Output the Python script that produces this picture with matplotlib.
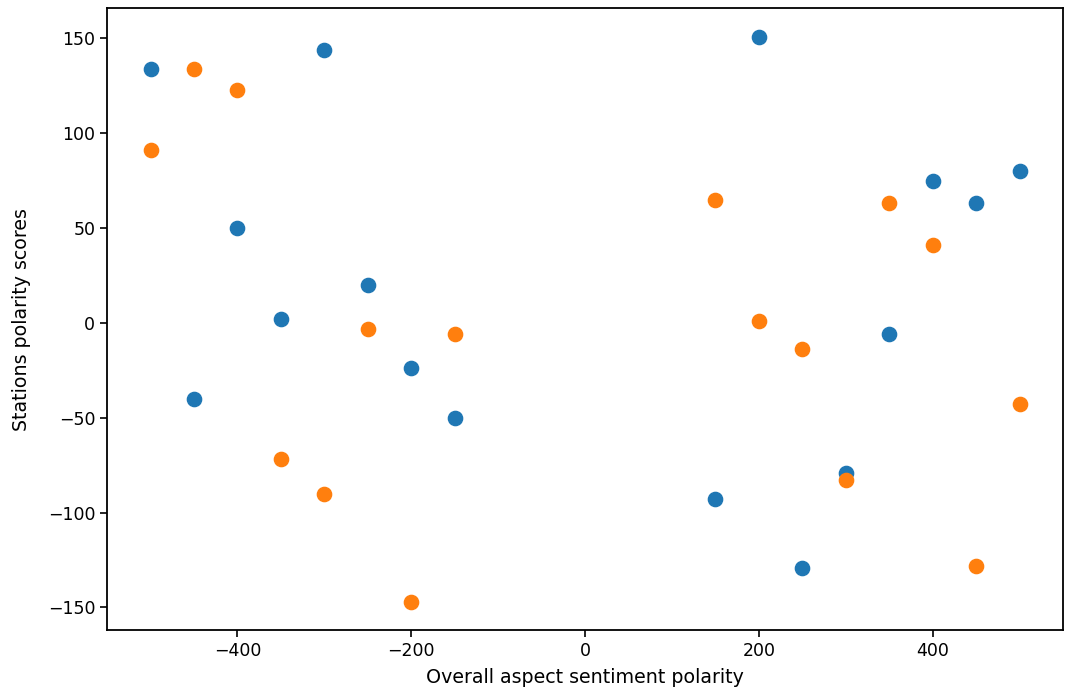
import matplotlib
matplotlib.use("Agg")
import matplotlib.pyplot as plt

x_values = [-500, -450, -400, -350, -300, -250, -200, -150,
            150, 200, 250, 300, 350, 400, 450, 500]
blue_scores = [134, -40, 50, 2, 144, 20, -24, -50,
               -93, 151, -129, -79, -6, 75, 63, 80]
orange_scores = [91, 134, 123, -72, -90, -3, -147, -6,
                 65, 1, -14, -83, 63, 41, -128, -43]
x_label = "Overall aspect sentiment polarity"
y_label = "Stations polarity scores"

plt.rcParams['font.family'] = ['DejaVu Sans']
plt.rcParams['font.size'] = 12.5

fig = plt.figure(figsize=(10.71, 6.9), dpi=100)
ax = fig.add_axes([0.1, 0.087, 0.8925, 0.901])
ax.scatter(x_values, blue_scores, s=105, color='#1f77b4')
ax.scatter(x_values, orange_scores, s=105, color='#ff7f0e')
ax.set_xlabel(x_label, fontsize=13.7, labelpad=6)
ax.set_ylabel(y_label, fontsize=13.7, labelpad=12)
ax.tick_params(length=5, width=1.2, labelsize=12.5)
for sp in ax.spines.values():
    sp.set_linewidth(1.3)
fig.savefig("out.png", dpi=100)
